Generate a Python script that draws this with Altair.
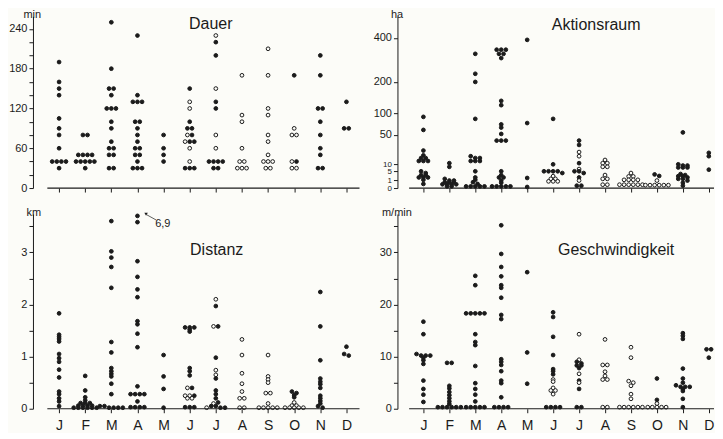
import math
import altair as alt
import pandas as pd

MONTHS = ["J", "F", "M", "A", "M", "J", "J", "A", "S", "O", "N", "D"]

# ---- Dauer (min)
DAUER_FILLED = [
    [190, 160, 150, 140, 105, 90, 80, 60, 40, 40, 40, 40, 30],
    [80, 80, 50, 50, 50, 50, 40, 40, 40, 40, 40, 30],
    [250, 180, 150, 150, 140, 120, 120, 120, 100, 90, 70, 60, 60, 50, 50, 30, 30],
    [230, 140, 130, 130, 130, 100, 100, 90, 80, 70, 60, 60, 50, 50, 40, 30, 30, 30],
    [80, 60, 50, 40],
    [150, 100, 90, 90, 80, 70, 70, 30, 30, 30],
    [220, 200, 130, 120, 40, 40, 40, 40, 30, 30],
    [],
    [],
    [170, 40],
    [200, 170, 120, 120, 100, 80, 60, 50, 30, 30],
    [130, 90, 90],
]
DAUER_OPEN = [
    [], [], [], [], [],
    [130, 120, 80, 70, 60, 40],
    [230, 150, 80, 60],
    [170, 110, 100, 60, 40, 40, 30, 30, 30],
    [210, 170, 120, 110, 80, 70, 50, 40, 40, 40, 30, 30],
    [90, 80, 80, 40, 30, 30],
    [], [],
]

# ---- Aktionsraum (ha)
AKTION_FILLED = [
    [90, 60, 25, 19, 16, 16, 13, 13, 13, 5, 4, 3, 3, 2, 2, 2, 1.2, 0.3],
    [11, 8, 1.5, 1, 1, 0.6, 0.6, 0.6, 0.25, 0.25, 0.25, 0.25, 0.05, 0.05],
    [320, 232, 200, 85, 18, 16, 16, 13, 13, 13, 5, 2, 1.2, 0.6, 0.3, 0.05, 0.05, 0.05, 0.05, 0.05],
    [340, 340, 340, 320, 320, 300, 135, 122, 72, 65, 52, 40, 40, 40, 5, 3, 2, 2, 1, 0.5,
     0.05, 0.05, 0.05, 0.05, 0.05],
    [390, 75, 1.8, 0.02],
    [85, 10, 5, 5, 5, 5, 4],
    [40, 33, 11, 5, 5, 4, 2, 0.1, 0.1],
    [],
    [],
    [3.3, 2.6],
    [55, 10, 9, 9, 7.5, 7.5, 7.5, 3.5, 3, 2.5, 2.5, 2, 1.5, 1.5, 1, 0.5, 0.1],
    [22, 18, 6],
]
AKTION_OPEN = [
    [], [], [], [], [],
    [2.5, 1.5, 1.5, 0.8, 0.8, 0.8],
    [23, 18, 6.4, 1],
    [14, 11, 11, 8, 8, 3, 1.5, 1.5, 0.2, 0.2],
    [4, 2.4, 2.4, 1.2, 1.2, 1.2, 1.2, 0.2, 0.2, 0.2, 0.2, 0.2, 0.2],
    [1, 0.15, 0.15, 0.15, 0.15, 0.15, 0.15],
    [], [],
]

# ---- Distanz (km)
DIST_FILLED = [
    [1.83, 1.42, 1.38, 1.34, 1.29, 1.05, 0.97, 0.9, 0.75, 0.6, 0.33, 0.28, 0.2, 0.14, 0.05],
    [0.63, 0.35, 0.22, 0.16, 0.11, 0.11, 0.11, 0.06, 0.06, 0.06, 0.06, 0.02, 0.02, 0.02, 0.02, 0.02, 0.02],
    [3.6, 3.02, 2.9, 2.72, 2.32, 1.28, 1.08, 0.78, 0.72, 0.67, 0.62, 0.48, 0.28, 0.05, 0.05,
     0.02, 0.02, 0.02, 0.02],
    [6.9, 3.58, 2.83, 2.53, 2.29, 2.14, 1.68, 1.62, 1.44, 1.18, 0.43, 0.28, 0.28, 0.28, 0.28,
     0.14, 0.03, 0.03, 0.03, 0.03],
    [1.03, 0.62, 0.38, 0.02],
    [1.56, 1.56, 1.56, 1.52, 1.48, 0.78, 0.72, 0.64, 0.4, 0.25, 0.03, 0.03, 0.03],
    [1.97, 1.58, 0.98, 0.58, 0.35, 0.28, 0.2, 0.12, 0.05, 0.05, 0.02, 0.02],
    [],
    [],
    [0.33, 0.3, 0.26, 0.22],
    [2.24, 1.58, 0.93, 0.58, 0.52, 0.47, 0.4, 0.25, 0.2, 0.15, 0.1, 0.05, 0.02],
    [1.19, 1.05, 1.02],
]
DIST_OPEN = [
    [], [], [], [], [],
    [0.4, 0.25, 0.25, 0.2, 0.2],
    [2.1, 1.58, 0.74, 0.65, 0.1, 0.02],
    [1.33, 1.03, 0.68, 0.48, 0.33, 0.2, 0.2, 0.02, 0.02],
    [1.03, 0.62, 0.56, 0.5, 0.3, 0.3, 0.1, 0.02, 0.02, 0.02, 0.02, 0.02],
    [0.12, 0.06, 0.06, 0.02, 0.02, 0.02, 0.02, 0.02],
    [], [],
]

# ---- Geschwindigkeit (m/min)
SPEED_FILLED = [
    [16.7, 14.3, 10.5, 10.2, 10.2, 10.2, 9.8, 9.3, 8.6, 5.4, 3.8, 2.7, 1.3],
    [8.8, 8.8, 4.4, 3.9, 3.2, 2.6, 2.0, 1.4, 0.9, 0.3, 0.3, 0.3, 0.3, 0.3, 0.3],
    [25.5, 23.7, 18.3, 18.3, 18.3, 18.3, 18.3, 14.3, 12.8, 12.2, 8.2, 4.9, 3.8, 2.7, 1.4,
     0.3, 0.3, 0.3, 0.3, 0.3],
    [35.2, 29.7, 27.2, 25.4, 23.7, 23.2, 21.3, 18.0, 17.2, 9.5, 9.0, 8.4, 7.2, 5.4, 4.9, 2.2,
     0.3, 0.3, 0.3, 0.3],
    [26.2, 10.8, 4.8],
    [18.5, 17.6, 13.8, 10.3, 7.6, 7.2, 6.6, 0.3, 0.3, 0.3, 0.3],
    [9.0, 8.7, 8.3, 8.3, 7.8, 5.4, 3.8, 0.3, 0.3],
    [],
    [],
    [5.8, 1.7],
    [14.5, 14.0, 13.4, 7.7, 5.8, 5.0, 4.5, 4.2, 4.2, 4.2, 3.8, 3.4, 1.9, 0.3],
    [11.4, 11.4, 9.8],
]
SPEED_OPEN = [
    [], [], [], [], [],
    [5.6, 5.2, 4.0, 3.5, 3.5, 2.8],
    [14.3, 9.4, 6.7, 5.0],
    [13.3, 8.4, 8.4, 7.1, 6.3, 5.6, 5.6, 0.3, 0.3],
    [11.8, 9.8, 5.3, 5.0, 4.4, 2.8, 1.9, 0.3, 0.3, 0.3, 0.3, 0.3, 0.3],
    [1.0, 0.3, 0.3, 0.3, 0.3, 0.3],
    [], [],
]

INK = "#1b1b1b"
BG = "#fcfcf8"
FONT = "Liberation Sans"
DOT_STEP = 4.6   # px between dots sharing a row
ROW_TOL = 2.0    # px


def build_points(filled, opened, W, H, xmax, ymax, stype, clip=None):
    def to_px(v):
        if stype == "sqrt":
            return math.sqrt(v) / math.sqrt(ymax) * H
        return v / ymax * H
    unit = W / xmax
    rows = []
    for m in range(12):
        pts = [(v, "open") for v in opened[m]] + [(v, "filled") for v in filled[m]]
        pts = [(min(v, clip) if clip else v, k) for v, k in pts]
        pts.sort(key=lambda p: -to_px(p[0]))
        groups = []
        for p in pts:
            if groups and abs(to_px(groups[-1][0][0]) - to_px(p[0])) < ROW_TOL:
                groups[-1].append(p)
            else:
                groups.append([p])
        for g in groups:
            g.sort(key=lambda p: 0 if p[1] == "open" else 1)
            n = len(g)
            for i, (v, k) in enumerate(g):
                off = (i - (n - 1) / 2) * DOT_STEP / unit
                rows.append({"xpos": m + 1 + off, "v": v, "kind": k})
    return pd.DataFrame(rows)


def panel(filled, opened, title, unit, W, H, xmax, ymax, stype, yvals, ylabels,
          title_px, unit_dx, show_months, xstart, clip=None, extra=None, small_below=None):
    df = build_points(filled, opened, W, H, xmax, ymax, stype, clip)
    # label lookup: only the listed values get a printed label
    label_expr = ("indexof([" + ",".join(str(v) for v in ylabels)
                  + "], datum.value) >= 0 ? format(datum.value, '~g') : ''")
    month_expr = "[" + ",".join(f"'{m}'" for m in MONTHS) + "][datum.value - 1]"
    if small_below is None:
        lab_size = 11
    else:
        lab_size = {"condition": {"test": f"datum.value <= {small_below}", "value": 8}, "value": 11}
    xaxis = alt.Axis(values=list(range(1, 13)), domain=False, grid=False, tickSize=4,
                     tickColor=INK, title=None, labels=show_months, labelOverlap=False,
                     labelExpr=month_expr, labelFontSize=14, labelPadding=6, labelFlush=False,
                     labelColor=INK, labelFont=FONT)
    yaxis = alt.Axis(values=yvals, labelExpr=label_expr, domain=True, domainColor=INK,
                     tickColor=INK, tickSize=4, grid=False, labelOverlap=False, labelFlush=False,
                     labelFontSize=lab_size, labelPadding=2, labelColor=INK, labelFont=FONT,
                     title=unit, titleAngle=0, titleAlign="left", titleBaseline="alphabetic",
                     titleX=unit_dx, titleY=1, titleFontSize=11, titleFontWeight="normal",
                     titleColor=INK, titleFont=FONT)
    if stype == "sqrt":
        yscale = alt.Scale(type="sqrt", domain=[0, ymax], nice=False)
    else:
        yscale = alt.Scale(domain=[0, ymax], nice=False)
    xscale = alt.Scale(domain=[0, xmax], nice=False, zero=False)
    X = alt.X("xpos:Q", scale=xscale, axis=xaxis)
    Y = alt.Y("v:Q", scale=yscale, axis=yaxis)

    pts = alt.Chart(df).mark_circle(opacity=1, size=14, stroke=INK, strokeWidth=1).encode(
        x=X, y=Y,
        fill=alt.Fill("kind:N", scale=alt.Scale(domain=["filled", "open"], range=[INK, BG]),
                      legend=None),
    )
    rule = alt.Chart(pd.DataFrame({"xpos": [xstart], "xend": [xmax], "v": [0]})).mark_rule(
        color=INK, strokeWidth=1.2
    ).encode(x=X, x2="xend:Q", y=Y)
    ttl = alt.Chart(pd.DataFrame({"t": [title]})).mark_text(
        font=FONT, fontSize=16, color=INK, baseline="middle", align="center"
    ).encode(x=alt.value(title_px[0]), y=alt.value(title_px[1]), text="t:N")
    layers = [pts, rule, ttl]
    if extra is not None:
        layers += [e(X, Y) for e in extra]
    return alt.layer(*layers).properties(width=W, height=H)


TOP_H, BOT_H = 172, 195
LEFT_W, RIGHT_W = 327, 317
LEFT_XMAX, RIGHT_XMAX = 12.5, 12.2


# annotation for the off-scale value 6,9 km
def ann_text(X, Y):
    return alt.Chart(pd.DataFrame({"xpos": [4.97], "v": [3.55], "t": ["6,9"]})).mark_text(
        font=FONT, fontSize=11, color=INK, baseline="middle", align="center"
    ).encode(x=X, y=Y, text="t:N")


def ann_line(X, Y):
    return alt.Chart(pd.DataFrame({"xpos": [4.36], "xend": [4.72], "v": [3.72], "vend": [3.62]})).mark_rule(
        color=INK, strokeWidth=0.7
    ).encode(x=X, x2="xend:Q", y=Y, y2="vend:Q")


def ann_tri(X, Y):
    return alt.Chart(pd.DataFrame({"xpos": [4.33], "v": [3.73]})).mark_point(
        shape="triangle-down", filled=True, size=12, color=INK, opacity=1
    ).encode(x=X, y=Y)


tl = panel(DAUER_FILLED, DAUER_OPEN, "Dauer", "min", LEFT_W, TOP_H, LEFT_XMAX, 259, "linear",
           list(range(0, 260, 20)), [0, 60, 120, 180, 240], (178, 8), -10, False, 0.55)
tr = panel(AKTION_FILLED, AKTION_OPEN, "Aktionsraum", "ha", RIGHT_W, TOP_H, RIGHT_XMAX, 524, "sqrt",
           [0, 1, 5, 10, 50, 100, 200, 400], [0, 1, 5, 10, 50, 100, 200, 400], (199, 9), -7, False,
           0.45, small_below=10)
bl = panel(DIST_FILLED, DIST_OPEN, "Distanz", "km", LEFT_W, BOT_H, LEFT_XMAX, 3.736, "linear",
           [0, 0.5, 1, 1.5, 2, 2.5, 3, 3.5], [0, 1, 2, 3], (184, 36), -7, True, 0.55, clip=3.70,
           extra=[ann_line, ann_tri, ann_text])
br = panel(SPEED_FILLED, SPEED_OPEN, "Geschwindigkeit", "m/min", RIGHT_W, BOT_H, RIGHT_XMAX, 37.36,
           "linear", [0, 5, 10, 15, 20, 25, 30, 35], [0, 10, 20, 30], (219, 36), -16, True, 0.45)

chart = alt.concat(
    tl, tr, bl, br, columns=2, spacing={"row": 26, "column": 38}, bounds="flush",
).properties(padding=0, background=BG).configure_view(stroke=None).configure_axis(
    labelOverlap=False
)

chart.save("out.html", embed_options={"renderer": "svg", "actions": False})
